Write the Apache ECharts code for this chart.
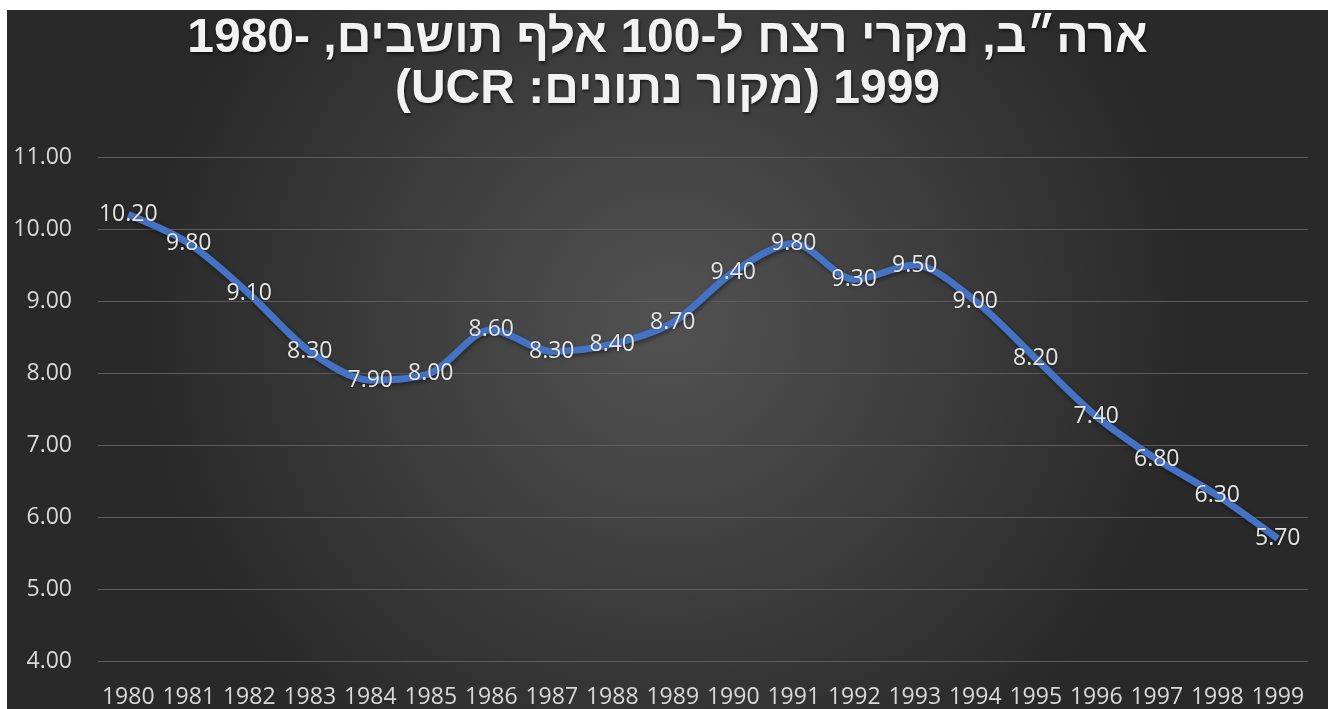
<!DOCTYPE html>
<html>
<head>
<meta charset="utf-8">
<script src="https://cdn.jsdelivr.net/npm/echarts@6/dist/echarts.min.js"></script>
<style>
  html, body { margin: 0; padding: 0; background: #ffffff; overflow: hidden; }
  #chart { position: absolute; left: 7px; top: 10px; width: 1321px; height: 699px; }
</style>
</head>
<body>
<div id="chart"></div>
<script>
const titleLine1 = 'ארה״ב, מקרי רצח ל-100 אלף תושבים, -1980';
const titleLine2 = '1999 (מקור נתונים: UCR)';
const years = ['1980','1981','1982','1983','1984','1985','1986','1987','1988','1989','1990','1991','1992','1993','1994','1995','1996','1997','1998','1999'];
const murderRate = [10.2, 9.8, 9.1, 8.3, 7.9, 8.0, 8.6, 8.3, 8.4, 8.7, 9.4, 9.8, 9.3, 9.5, 9.0, 8.2, 7.4, 6.8, 6.3, 5.7];
const yMin = 4, yMax = 11, yStep = 1;

const RLE = '\u202B', PDF = '\u202C';
const chart = echarts.init(document.getElementById('chart'), null, { renderer: 'canvas' });
chart.setOption({
  animation: false,
  backgroundColor: {
    type: 'radial', x: 0.5, y: 0.45, r: 0.75,
    colorStops: [
      { offset: 0, color: '#525252' },
      { offset: 1, color: '#292929' }
    ]
  },
  title: {
    text: RLE + titleLine1 + PDF + '\n' + RLE + titleLine2 + PDF,
    left: 'center',
    top: -2,
    textStyle: {
      fontFamily: '"Liberation Sans", Arial, sans-serif',
      fontWeight: 'bold',
      fontSize: 48,
      lineHeight: 51,
      color: '#f2f2f2',
      textShadowColor: 'rgba(0,0,0,0.6)',
      textShadowBlur: 3,
      textShadowOffsetX: 1,
      textShadowOffsetY: 2
    }
  },
  grid: { left: 91, right: 20, top: 147, bottom: 44, containLabel: false },
  xAxis: {
    type: 'category',
    data: years,
    boundaryGap: true,
    axisLine: { show: false },
    axisTick: { show: false },
    axisLabel: {
      interval: 0,
      margin: 25,
      color: '#d9d9d9',
      fontFamily: '"Open Sans", sans-serif',
      fontSize: 23
    }
  },
  yAxis: {
    type: 'value',
    min: yMin, max: yMax, interval: yStep,
    axisLine: { show: false },
    axisTick: { show: false },
    splitLine: { lineStyle: { color: '#5c5c5c', width: 1 } },
    axisLabel: {
      margin: 26,
      color: '#d9d9d9',
      fontFamily: '"Open Sans", sans-serif',
      fontSize: 23,
      formatter: v => v.toFixed(2)
    }
  },
  series: [{
    type: 'line',
    data: murderRate,
    smooth: 0.3,
    symbol: 'circle',
    symbolSize: 1,
    showSymbol: true,
    itemStyle: { color: 'rgba(68,114,196,0)' },
    lineStyle: {
      color: '#4472C4', width: 7,
      shadowColor: 'rgba(0,0,0,0.45)', shadowBlur: 4, shadowOffsetX: 1, shadowOffsetY: 2
    },
    label: {
      show: true,
      position: 'inside',
      color: '#e6e6e6',
      fontFamily: '"Open Sans", sans-serif',
      fontSize: 23,
      offset: [0, 2],
      textShadowColor: 'rgba(0,0,0,0.35)',
      textShadowBlur: 2,
      formatter: p => p.value.toFixed(2)
    },
    labelLayout: { hideOverlap: false }
  }]
});
</script>
</body>
</html>
